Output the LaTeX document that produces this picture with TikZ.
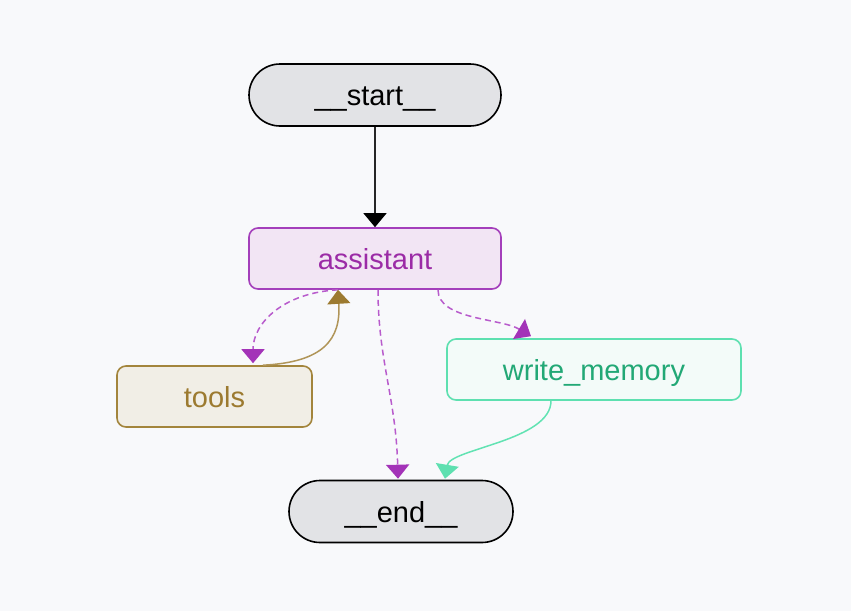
\documentclass[tikz,border=0pt]{standalone}
\usepackage{fontspec}
\setmainfont{Liberation Sans}
\usetikzlibrary{arrows.meta}
\definecolor{bg}{HTML}{F8F9FB}
\definecolor{termfill}{HTML}{E2E3E6}
\definecolor{asfill}{HTML}{F2E5F4}
\definecolor{asdraw}{HTML}{A43FBB}
\definecolor{astext}{HTML}{9B2BA6}
\definecolor{dashcol}{HTML}{B85BCC}
\definecolor{dashtip}{HTML}{A333B8}
\definecolor{tofill}{HTML}{F1EEE6}
\definecolor{todraw}{HTML}{A3853C}
\definecolor{totext}{HTML}{9C7A30}
\definecolor{toline}{HTML}{B09558}
\definecolor{wmfill}{HTML}{F3FBF9}
\definecolor{wmdraw}{HTML}{5EE0B0}
\definecolor{wmtext}{HTML}{22A876}
\definecolor{wmline}{HTML}{62E3B3}
\begin{document}
\begin{tikzpicture}[x=1pt,y=-1pt,
  base/.style={inner sep=0pt, font=\fontsize{29}{32}\selectfont, line width=1.6pt, text height=21pt, text depth=0pt},
  term/.style={base, draw=black, fill=termfill, text=black, rounded corners=31pt, minimum height=62pt},
  asbox/.style={base, draw=asdraw, fill=asfill, text=astext, rounded corners=9pt, minimum width=252pt, minimum height=61pt},
  tobox/.style={base, draw=todraw, fill=tofill, text=totext, rounded corners=9pt, minimum width=195pt, minimum height=61pt},
  wmbox/.style={base, draw=wmdraw, fill=wmfill, text=wmtext, rounded corners=9pt, minimum width=294pt, minimum height=61pt},
  solidedge/.style={line width=1.3pt, draw=black!85, -{Triangle[width=23pt,length=14pt,fill=black,color=black]}},
  dashedge/.style={line width=1.5pt, draw=dashcol, dash pattern=on 6pt off 4pt, -{Triangle[width=23pt,length=14pt,fill=dashtip,color=dashtip]}},
  toedge/.style={line width=1.5pt, draw=toline, -{Triangle[width=23pt,length=14pt,fill=totext,color=totext]}},
  wmedge/.style={line width=1.5pt, draw=wmline, -{Triangle[width=23pt,length=14pt,fill=wmdraw,color=wmdraw]}}
]
\fill[bg] (0,0) rectangle (851,611);
\useasboundingbox (0,0) rectangle (851,611);

\node[term, minimum width=252pt] (start) at (375,95) {\_\_start\_\_};
\node[asbox] (assistant) at (375,258.5) {assistant};
\node[tobox] (tools) at (214.5,396.5) {tools};
\node[wmbox] (wm) at (594,369.5) {write\_memory};
\node[term, minimum width=224pt] (end) at (401,511.5) {\_\_end\_\_};

\draw[solidedge] (start) -- (assistant);
\draw[dashedge] ([xshift=-37pt]assistant.south) .. controls +(-55,3) and +(0,-40) .. ([xshift=38.5pt,yshift=2pt]tools.north);
\draw[toedge] ([xshift=48.5pt]tools.north) .. controls +(60,-3) and +(3,50) .. ([xshift=-37pt]assistant.south);
\draw[dashedge] ([xshift=3pt]assistant.south) .. controls +(0,70) and +(-2,-80) .. ([xshift=-3pt,yshift=1pt]end.north);
\draw[dashedge] ([xshift=63pt]assistant.south) .. controls +(0,30) and +(-30,-18) .. ([xshift=-63pt,yshift=2pt]wm.north);
\draw[wmedge] ([xshift=-43pt]wm.south) .. controls +(0,40) and +(5,-30) .. ([xshift=44pt,yshift=1pt]end.north);
\end{tikzpicture}
\end{document}
